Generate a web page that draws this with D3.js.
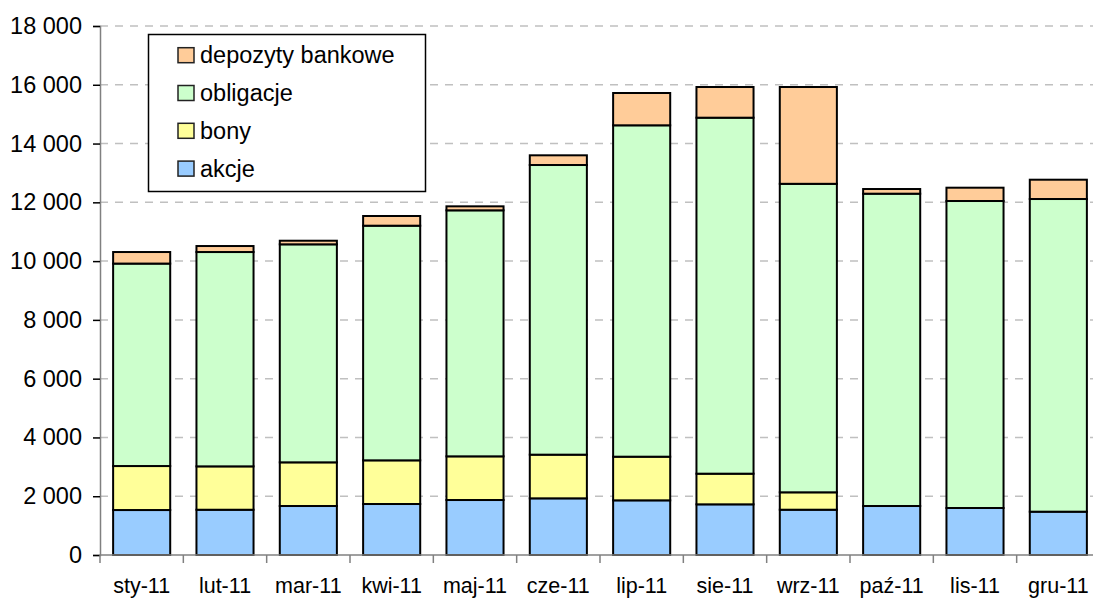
<!DOCTYPE html>
<html><head><meta charset="utf-8">
<script src="https://cdn.jsdelivr.net/npm/d3@7"></script>
<style>body{margin:0;background:#fff;}svg{display:block;}</style>
</head><body>
<svg id="chart" width="1093" height="599"></svg>
<script>
const categories = ["sty-11","lut-11","mar-11","kwi-11","maj-11","cze-11","lip-11","sie-11","wrz-11","paź-11","lis-11","gru-11"];
const akcje = [1530,1540,1667,1735,1871,1928,1860,1724,1541,1667,1599,1474];
const bony = [1497,1476,1486,1486,1486,1486,1485,1043,592,0,0,0];
const obligacje = [6889,7293,7418,7984,8371,9856,11276,12113,10497,10627,10446,10639];
const depozyty = [393,204,123,330,136,330,1099,1044,3294,159,453,657];
const seriesNames = ["akcje","bony","obligacje","depozyty bankowe"];
const seriesColors = ["#99CCFF","#FFFF99","#CCFFCC","#FFCC99"];
const yTicks = [0,2000,4000,6000,8000,10000,12000,14000,16000,18000];

const svg = d3.select("#chart");
const m = {left:100, right:1100, top:26, bottom:555};
const x = d3.scaleBand().domain(categories).range([m.left, m.right]).paddingInner(0.315).paddingOuter(0.1575);
const y = d3.scaleLinear().domain([0,18000]).range([m.bottom, m.top]);
const font = "'Liberation Sans', Arial, sans-serif";

// gridlines
svg.append("g").selectAll("line").data(yTicks.filter(d=>d>0)).join("line")
  .attr("x1", m.left).attr("x2", 1093)
  .attr("y1", d=>y(d)).attr("y2", d=>y(d))
  .attr("stroke","#c0c0c0").attr("stroke-width",1.5).attr("stroke-dasharray","8 7");

// stack
const rows = categories.map((c,i)=>({cat:c, akcje:akcje[i], bony:bony[i], obligacje:obligacje[i], "depozyty bankowe":depozyty[i]}));
const stack = d3.stack().keys(seriesNames)(rows);
svg.append("g").selectAll("g").data(stack).join("g")
  .attr("fill",(d,i)=>seriesColors[i])
  .selectAll("rect").data(d=>d.filter(s=>s[1]-s[0]>0)).join("rect")
  .attr("x", d=>x(d.data.cat))
  .attr("width", x.bandwidth())
  .attr("y", d=>y(d[1]))
  .attr("height", d=>y(d[0])-y(d[1]))
  .attr("stroke","#000").attr("stroke-width",2);

// y axis
const yAxis = d3.axisLeft(y).tickValues(yTicks).tickSize(7).tickPadding(11)
  .tickFormat(d=>d3.format(",")(d).replace(/,/g," "));
const ya = svg.append("g").attr("transform",`translate(${m.left},0)`).call(yAxis);
ya.select(".domain").attr("stroke","#808080").attr("stroke-width",1.5);
ya.selectAll(".tick line").attr("stroke","#000").attr("stroke-width",1.5);
ya.selectAll("text").attr("font-family",font).attr("font-size",23.5).attr("fill","#000");

// x axis
const xa = svg.append("g").attr("transform",`translate(0,${m.bottom})`)
  .call(d3.axisBottom(x).tickSize(0).tickPadding(18));
xa.select(".domain").attr("stroke","#808080").attr("stroke-width",1.5).attr("d",`M${m.left},0H1093`);
xa.selectAll("text").attr("font-family",font).attr("font-size",21.5).attr("fill","#000").attr("dy","0.95em");
// category boundary ticks
const step = x.step();
const bounds = d3.range(categories.length+1).map(i=>x(categories[0]) - x.paddingOuter()*step + i*step);
xa.append("g").selectAll("line").data(bounds).join("line")
  .attr("x1",d=>d).attr("x2",d=>d).attr("y1",0).attr("y2",8)
  .attr("stroke","#808080").attr("stroke-width",1.5);

// legend
const lg = svg.append("g");
lg.append("rect").attr("x",148.5).attr("y",34.5).attr("width",277).attr("height",157)
  .attr("fill","#fff").attr("stroke","#000").attr("stroke-width",1.5);
const legendOrder = [3,2,1,0];
legendOrder.forEach((si,k)=>{
  const cy = 55.2 + k*37.8;
  lg.append("rect").attr("x",178).attr("y",cy-7.5).attr("width",16).attr("height",15)
    .attr("fill",seriesColors[si]).attr("stroke","#222").attr("stroke-width",1.5);
  lg.append("text").attr("x",200).attr("y",cy+8).attr("font-family",font).attr("font-size",23.5)
    .attr("fill","#000").text(seriesNames[si]);
});
</script>
</body></html>
